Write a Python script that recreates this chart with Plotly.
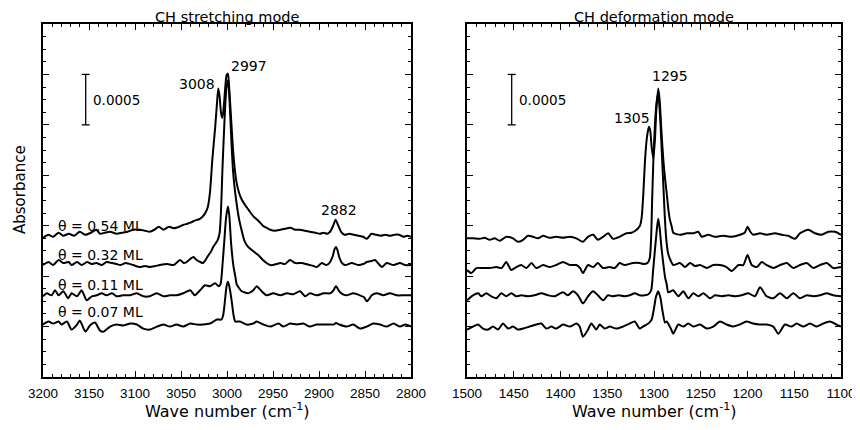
import plotly.graph_objects as go

# ---------------- data (absorbance in units of 1e-4) ----------------
# CH stretching region (left panel)
ch_x_054 = [3200, 3194, 3189, 3183, 3178, 3172, 3166, 3160, 3154, 3148, 3142, 3138, 3133, 3127, 3120, 3114,
            3108, 3102, 3095, 3089, 3084, 3079, 3074, 3069, 3063, 3058, 3052, 3047, 3043, 3040, 3035, 3029,
            3024, 3021, 3018.5, 3016, 3013, 3011, 3009.5, 3008, 3006.5, 3005, 3003.5, 3002, 3000.5, 2999,
            2997.5, 2995, 2993, 2990, 2987, 2984, 2980, 2976, 2971, 2966, 2961, 2957, 2953, 2948, 2942, 2937,
            2931, 2926, 2921, 2915, 2910, 2904, 2899, 2895, 2891, 2888, 2885, 2882, 2879, 2876, 2872, 2867,
            2862, 2857, 2852, 2848, 2843, 2838, 2833, 2828, 2823, 2818, 2813, 2808, 2804, 2800]
ch_y_054 = [13.8, 14.1, 13.9, 14.3, 14.0, 14.2, 14.0, 14.4, 14.1, 14.3, 14.6, 14.2, 14.3, 14.4, 14.2, 14.3,
            14.4, 14.6, 14.6, 14.5, 14.4, 14.6, 14.9, 14.6, 14.9, 14.75, 14.9, 15.1, 15.2, 15.3, 15.5, 15.7,
            16.2, 16.8, 18.3, 21.5, 24.6, 27.0, 28.6, 27.8, 26.2, 25.7, 26.8, 28.6, 29.9, 30.1,
            28.5, 24.8, 22.0, 19.5, 18.3, 17.6, 17.0, 16.5, 15.9, 15.5, 15.0, 14.8, 14.6, 14.5, 14.6, 14.7,
            14.8, 14.6, 14.6, 14.5, 14.4, 14.3, 14.2, 14.3, 14.2, 14.4, 14.9, 15.6, 15.0, 14.4, 14.1, 14.2,
            14.1, 14.0, 13.9, 13.7, 14.2, 14.1, 14.0, 14.1, 14.0, 14.1, 14.1, 13.9, 14.0, 13.9]

ch_x_032 = [3200, 3194, 3189, 3183, 3178, 3172, 3169, 3163, 3158, 3152, 3147, 3142, 3136, 3131, 3125, 3120,
            3116, 3110, 3102, 3095, 3089, 3084, 3078, 3073, 3065, 3058, 3051, 3047, 3044, 3040, 3036.5, 3033,
            3029, 3026, 3022, 3020, 3017, 3015, 3012, 3010, 3008, 3006.5, 3005, 3003.5, 3002, 3000.5, 2999.3,
            2998, 2996.5, 2995, 2993.5, 2992, 2990, 2987, 2984, 2981, 2977, 2973, 2969, 2965, 2961, 2957,
            2953, 2950, 2946, 2942, 2937, 2931.5, 2926, 2919, 2914, 2910, 2906, 2902.5, 2897, 2892, 2888,
            2885, 2883, 2881.5, 2880, 2878, 2875, 2871.5, 2864.5, 2857, 2852, 2848, 2843, 2839, 2835, 2831.5,
            2826.5, 2819, 2812, 2806.5, 2800]
ch_y_032 = [11.1, 11.4, 11.1, 11.6, 11.3, 11.4, 11.1, 11.4, 11.1, 11.4, 11.2, 11.3, 11.1, 11.4, 11.3, 11.2,
            11.1, 11.3, 11.1, 10.9, 11.0, 10.9, 11.0, 11.1, 11.2, 11.1, 11.6, 11.3, 11.4, 11.7, 11.9, 11.6,
            11.4, 11.3, 11.8, 12.1, 12.5, 12.9, 13.3, 13.6, 14.3, 16.5, 20.5, 23.8, 26.8, 28.8, 29.4,
            28.6, 26.0, 23.0, 20.5, 19.0, 17.5, 15.7, 14.5, 13.5, 12.9, 12.6, 12.3, 12.0, 11.6, 11.3,
            11.1, 11.1, 11.2, 11.3, 11.2, 11.6, 11.3, 11.3, 11.2, 11.1, 11.0, 10.9, 11.3, 11.1, 11.4,
            12.0, 12.7, 12.9, 12.6, 11.9, 11.3, 11.1, 11.3, 11.1, 11.2, 11.4, 11.5, 11.6, 11.2, 10.9,
            11.3, 11.1, 11.3, 11.1, 11.1]

ch_x_011 = [3200, 3196, 3190.5, 3187, 3183, 3178, 3172.5, 3169, 3163, 3158, 3152.5, 3147, 3141.6, 3136, 3131,
            3125, 3120, 3113, 3105.5, 3098, 3091, 3084, 3076.4, 3069, 3062, 3055, 3047.5, 3040, 3035, 3029.3,
            3024, 3018.5, 3013, 3009, 3007, 3005, 3003, 3001, 2999, 2997.5, 2995.5, 2993, 2991, 2989.5, 2986,
            2984, 2977, 2971.4, 2967.7, 2962.3, 2956.8, 2949.7, 2942, 2935, 2928, 2920.7, 2915, 2909.8, 2902.5,
            2895, 2888, 2885, 2881.5, 2878, 2874, 2870, 2862.7, 2855.5, 2851, 2848, 2845, 2842.7, 2837, 2830,
            2823, 2815.5, 2808, 2800]
ch_y_011 = [8.0, 8.3, 8.1, 8.6, 8.1, 8.5, 7.8, 8.3, 8.0, 8.6, 7.6, 8.0, 8.1, 8.3, 8.1,
            8.3, 8.0, 8.1, 8.1, 8.3, 8.0, 8.0, 8.3, 8.0, 8.1, 8.1, 8.3, 8.6, 8.1, 8.6,
            9.1, 9.0, 9.3, 9.0, 9.2, 11.0, 13.4, 15.8, 16.9, 16.0, 13.2, 11.0, 10.0, 9.2, 8.7,
            8.5, 8.3, 8.6, 9.0, 8.5, 8.1, 8.3, 8.1, 8.3, 8.2, 8.5, 8.0, 8.3, 8.1,
            8.3, 8.3, 8.5, 9.0, 8.5, 8.2, 8.1, 8.3, 8.1, 7.9, 7.5, 7.8, 8.1, 8.3, 8.1,
            8.3, 8.1, 8.1, 8.1]

ch_x_007 = [3200, 3194, 3189, 3183, 3180, 3174, 3169, 3163, 3160, 3154, 3149, 3143.5, 3138, 3134, 3127, 3120,
            3113, 3105, 3098, 3091, 3084, 3076, 3069, 3062, 3055, 3047.5, 3040, 3033, 3026, 3018.5, 3011,
            3006, 3004, 3002.2, 3000.5, 2999, 2997.5, 2995, 2993, 2991, 2986, 2978.6, 2971.4, 2967.7, 2960.5,
            2953, 2944, 2938.6, 2931.5, 2924, 2917, 2910, 2902.5, 2895, 2888, 2884, 2881.5, 2878, 2870, 2862.7,
            2855.4, 2848, 2841, 2833.7, 2826.5, 2819, 2812, 2806, 2800]
ch_y_007 = [5.2, 5.5, 5.3, 5.5, 5.2, 5.5, 4.7, 5.2, 5.6, 4.5, 5.1, 5.4, 4.6, 4.5, 5.0, 5.2,
            5.1, 5.3, 5.2, 4.8, 4.7, 5.0, 5.2, 5.0, 5.2, 5.0, 5.3, 5.2, 5.2, 5.3, 5.7,
            5.7, 6.2, 7.6, 9.0, 9.45, 9.0, 7.6, 6.2, 5.5, 5.5, 5.2, 5.3, 5.5, 5.2,
            5.0, 5.3, 5.0, 5.3, 5.2, 5.3, 5.0, 5.2, 5.2, 5.2, 5.2, 5.35, 5.2, 5.0, 5.2,
            4.8, 5.0, 5.3, 5.2, 5.0, 5.3, 5.0, 5.2, 5.0]

# CH deformation region (right panel)
cd_x_054 = [1500, 1493.6, 1486.4, 1481, 1475.7, 1470.4, 1465, 1458, 1450.8, 1445.5, 1440, 1434.8, 1429.4, 1424,
            1418.7, 1411.6, 1404.5, 1397.4, 1390, 1383, 1376, 1370.6, 1365, 1360, 1354.5, 1349, 1343.9, 1336.7,
            1329.6, 1324, 1320, 1317, 1315, 1313.2, 1311.4, 1309.6, 1307.5, 1305.5, 1304, 1302.5, 1300.7, 1299,
            1297.5, 1295.5, 1294, 1292, 1290, 1288, 1286.4, 1284.5, 1283, 1281, 1279.4, 1272, 1265, 1258, 1252.6,
            1249, 1242, 1234.8, 1226, 1217, 1208, 1203, 1200, 1197, 1193.8, 1186.6, 1179.5, 1170.6, 1163.4,
            1156.4, 1149.2, 1143.9, 1135, 1127.8, 1120.6, 1113.6, 1106.4, 1100]
cd_y_054 = [13.75, 13.75, 13.7, 13.8, 13.6, 13.75, 13.5, 13.9, 13.75, 13.4, 13.6, 14.0, 13.9, 13.75,
            14.0, 13.8, 13.9, 13.8, 13.9, 13.75, 13.4, 13.9, 14.1, 13.6, 13.9, 14.25, 13.7, 13.9,
            14.25, 14.3, 14.5, 14.75, 15.0, 15.8, 18.2, 21.5, 23.8, 24.8, 24.4, 22.8, 21.7, 23.5,
            26.5, 28.6, 27.5, 24.3, 21.5, 19.5, 18.2, 16.5, 15.6, 14.9, 14.3, 14.1, 14.25, 14.25, 14.4,
            13.9, 14.1, 13.9, 14.0, 13.9, 14.1, 14.3, 14.9, 14.4, 14.1, 14.25, 14.1, 14.25, 14.1,
            14.0, 13.7, 14.25, 14.6, 14.25, 14.1, 14.4, 14.4, 14.1]

cd_x_032 = [1500, 1495.4, 1490, 1483, 1475.7, 1468.7, 1463, 1458, 1452.6, 1447.3, 1442, 1436.6, 1431, 1426,
            1418.7, 1411.5, 1404.5, 1397.3, 1390, 1383, 1379, 1376, 1370.6, 1365, 1360, 1354.5, 1347.4, 1342,
            1336.7, 1331.3, 1322.5, 1315.3, 1311, 1307, 1304.5, 1303, 1302, 1300.5, 1299, 1297.5, 1296, 1294.5,
            1293, 1291.5, 1290, 1288.5, 1287, 1285, 1282, 1279.4, 1272.2, 1266.8, 1261.5, 1256, 1250.7, 1243.6,
            1236.6, 1229.5, 1222.4, 1217, 1209.8, 1204.5, 1200, 1195.5, 1190, 1184.8, 1179.5, 1172.4, 1165.2,
            1158, 1151, 1143.9, 1136.7, 1129.6, 1122.5, 1115.3, 1108.2, 1100]
cd_y_032 = [10.6, 10.3, 10.8, 10.8, 10.8, 10.9, 10.8, 11.4, 10.6, 10.9, 11.1, 10.8, 11.3, 10.8,
            11.1, 10.9, 11.1, 11.4, 11.1, 11.1, 10.8, 10.3, 11.1, 10.9, 11.3, 10.8, 10.9, 10.8,
            11.3, 11.1, 11.3, 11.3, 11.2, 11.3, 11.8, 14.0, 17.5, 22.0, 25.0, 27.0, 28.0, 27.2,
            25.0, 22.0, 19.0, 16.0, 13.8, 12.3, 11.5, 11.1, 11.3, 10.9, 11.3, 11.0, 11.1, 10.8,
            11.1, 11.1, 10.9, 10.5, 11.1, 11.1, 12.1, 11.1, 10.9, 11.4, 11.1, 10.8, 11.1,
            11.3, 10.8, 11.1, 11.3, 10.8, 11.1, 11.3, 10.8, 10.9]

cd_x_011 = [1500, 1493.6, 1488, 1484.7, 1479.4, 1474, 1468.7, 1463.3, 1458, 1452.6, 1447.3, 1442, 1435, 1427.6,
            1420.5, 1413.3, 1406.3, 1397.3, 1392, 1386.6, 1381.3, 1376, 1370.6, 1365.2, 1360, 1354.5, 1349.2,
            1343.9, 1338, 1331.3, 1326, 1320.6, 1315.3, 1310, 1306, 1303, 1301, 1299, 1297, 1295.5, 1294, 1292,
            1290, 1288, 1286.4, 1284.7, 1279.4, 1274, 1268.7, 1263.3, 1258, 1252.6, 1247.3, 1240, 1234.8,
            1227.7, 1220.6, 1213.4, 1206.3, 1199.1, 1192, 1186.6, 1179.5, 1172.4, 1165.2, 1158, 1151, 1143.9,
            1136.7, 1129.6, 1122.5, 1115.3, 1108.2, 1100]
cd_y_011 = [7.6, 8.1, 8.3, 8.0, 8.3, 8.0, 7.8, 8.3, 8.0, 8.3, 8.0, 8.1, 8.0, 8.1,
            8.3, 8.1, 8.0, 8.4, 8.1, 8.5, 8.1, 7.3, 8.0, 8.5, 8.1, 7.6, 8.1,
            8.0, 8.1, 8.0, 8.1, 8.3, 8.1, 8.1, 8.2, 8.6, 10.5, 12.6, 14.6, 15.7, 14.8, 12.8,
            11.2, 9.8, 9.2, 8.4, 8.6, 8.0, 8.5, 7.8, 8.3, 8.0, 8.3, 7.8, 8.1,
            8.0, 8.1, 8.0, 8.1, 8.3, 8.0, 8.9, 8.0, 7.8, 8.3, 7.8, 8.3, 7.8,
            8.1, 8.0, 8.1, 8.3, 8.1, 8.0]

cd_x_007 = [1500, 1493.6, 1488.2, 1482.9, 1477.5, 1472.2, 1466.8, 1461.5, 1456, 1450.8, 1445.5, 1440, 1433,
            1426, 1420.5, 1415, 1409.8, 1404.5, 1397.3, 1390, 1383, 1379.5, 1376, 1370.6, 1367, 1361.7, 1358.1,
            1352.7, 1347.4, 1340.3, 1333.2, 1326, 1320.6, 1315.3, 1311.8, 1306, 1302.5, 1300, 1298, 1295.5,
            1293, 1291, 1288.2, 1286.4, 1282, 1279.4, 1274, 1268.7, 1263.3, 1258, 1250.7, 1243.6, 1236.6,
            1229.4, 1222.4, 1215.3, 1208.2, 1201, 1194, 1187, 1179.5, 1172.4, 1167, 1160, 1153, 1147.4, 1140.3,
            1133.2, 1126, 1119, 1111.8, 1104.7, 1100]
cd_y_007 = [4.7, 5.0, 5.2, 4.8, 4.7, 5.0, 4.7, 5.3, 4.8, 5.0, 4.7, 4.8, 5.0,
            5.2, 5.3, 4.8, 5.0, 4.8, 5.2, 5.0, 5.3, 5.0, 4.0, 4.7, 5.3, 4.7, 5.2,
            4.8, 5.0, 4.8, 5.0, 5.3, 5.5, 4.8, 5.0, 5.3, 5.7, 6.8, 7.9, 8.5,
            7.8, 6.6, 5.4, 5.5, 4.8, 4.3, 5.2, 5.0, 5.3, 5.0, 5.2, 4.8, 5.0,
            5.5, 5.2, 5.0, 5.2, 5.5, 5.3, 5.2, 5.2, 5.0, 4.3, 5.2, 5.0, 5.3, 5.0,
            5.3, 5.0, 5.3, 5.5, 5.2, 5.0]

coverage_labels = ["θ = 0.54 ML", "θ = 0.32 ML", "θ = 0.11 ML", "θ = 0.07 ML"]
coverage_label_y = [15.0, 12.1, 9.1, 6.4]
ch_peak_labels = ["3008", "2997", "2882"]
ch_peak_label_x = [3032.6, 2976.6, 2878.3]
ch_peak_label_y = [29.1, 30.85, 16.6]
cd_peak_labels = ["1305", "1295"]
cd_peak_label_x = [1323, 1282.4]
cd_peak_label_y = [25.7, 29.8]
ch_ticks = [3200, 3150, 3100, 3050, 3000, 2950, 2900, 2850, 2800]
cd_ticks = [1500, 1450, 1400, 1350, 1300, 1250, 1200, 1150, 1100]
scale_bar = [25, 30]   # 0.0005 absorbance = 5 units

# ---------------- figure ----------------
TXT = "DejaVu Sans, Verdana, sans-serif"
TICKF = "Liberation Sans, Arial, Helvetica, sans-serif"
line = dict(color="black", width=2.0, shape="spline", smoothing=0.6)

fig = go.Figure()
for xs, ys in [(ch_x_054, ch_y_054), (ch_x_032, ch_y_032), (ch_x_011, ch_y_011), (ch_x_007, ch_y_007)]:
    fig.add_trace(go.Scatter(x=xs, y=ys, mode="lines", line=line, xaxis="x", yaxis="y",
                             showlegend=False, hoverinfo="skip"))
for xs, ys in [(cd_x_054, cd_y_054), (cd_x_032, cd_y_032), (cd_x_011, cd_y_011), (cd_x_007, cd_y_007)]:
    fig.add_trace(go.Scatter(x=xs, y=ys, mode="lines", line=line, xaxis="x2", yaxis="y2",
                             showlegend=False, hoverinfo="skip"))

# page has an 8px body margin: figure is 852x422 placed at (8, 8)
OFF = 8
FW, FH = 860 - OFF, 430 - OFF
# target plot area on the page: x 43..841 px, y 24..377 px
ML, MT = 43 - OFF, 24 - OFF
MR, MB = FW - (841 - OFF), FH - (377 - OFF)
PW, PH = FW - ML - MR, FH - MT - MB

def px(x):
    return (x - OFF - ML) / PW

def py(y):
    return (FH - MB - (y - OFF)) / PH

def xax(rng, ticks, dom, anchor):
    return dict(domain=dom, range=rng, anchor=anchor, tickmode="array", tickvals=ticks,
                ticktext=[str(t) for t in ticks], ticks="inside", ticklen=6, tickwidth=1.2,
                tickcolor="black", mirror="allticks", showline=True, linecolor="black", linewidth=1.5,
                showgrid=False, zeroline=False, automargin=False,
                tickfont=dict(family=TICKF, size=13.5, color="black"),
                ticklabelstandoff=3,
                minor=dict(dtick=10, tick0=1100, ticks="inside", ticklen=3, tickwidth=1, tickcolor="black",
                           showgrid=False))

def yax(anchor):
    return dict(domain=[0, 1], range=[0, 35], anchor=anchor, tick0=0, dtick=5, ticks="inside", ticklen=6,
                tickwidth=1.2, tickcolor="black", mirror="allticks", showline=True, linecolor="black",
                linewidth=1.5, showgrid=False, zeroline=False, showticklabels=False, automargin=False,
                minor=dict(dtick=1.25, tick0=0, ticks="inside", ticklen=3, tickwidth=1, tickcolor="black",
                           showgrid=False))

fig.update_layout(
    width=FW, height=FH, autosize=False,
    margin=dict(l=ML, r=MR, t=MT, b=MB, pad=0, autoexpand=False),
    paper_bgcolor="white", plot_bgcolor="white",
    xaxis=xax([3200, 2800], ch_ticks, [0, px(411)], "y"),
    yaxis=yax("x"),
    xaxis2=xax([1500, 1100], cd_ticks, [px(467), 1], "y2"),
    yaxis2=yax("x2"),
)

ann = []
def A(text, x, y, xref, yref, size, **kw):
    d = dict(text=text, x=x, y=y, xref=xref, yref=yref, showarrow=False, xanchor="center",
             yanchor="middle", font=dict(family=TXT, size=size, color="black"))
    d.update(kw)
    ann.append(d)

# panel titles and axis titles
A("CH stretching mode", px(227), py(8), "paper", "paper", 14.5, yanchor="top", borderpad=0)
A("CH deformation mode", px(654), py(8), "paper", "paper", 14.5, yanchor="top", borderpad=0)
A("Wave number (cm<sup>-1</sup>)", px(227), py(410), "paper", "paper", 16)
A("Wave number (cm<sup>-1</sup>)", px(654), py(410), "paper", "paper", 16)
A("Absorbance", px(20), py(190), "paper", "paper", 15, textangle=-90)

for t, yv in zip(coverage_labels, coverage_label_y):
    A(t, 3186, yv, "x", "y", 14, xanchor="left")
for t, xv, yv in zip(ch_peak_labels, ch_peak_label_x, ch_peak_label_y):
    A(t, xv, yv, "x", "y", 14)
for t, xv, yv in zip(cd_peak_labels, cd_peak_label_x, cd_peak_label_y):
    A(t, xv, yv, "x2", "y2", 14)
A("0.0005", 3148, 27.5, "x", "y", 13.5, xanchor="left")
A("0.0005", 1447, 27.5, "x2", "y2", 13.5, xanchor="left")
fig.update_layout(annotations=ann)

# scale bars
shapes = []
for xr, yr, xc, hw in [("x", "y", 3153.6, 4.35), ("x2", "y2", 1452.2, 4.3)]:
    sty = dict(color="black", width=1.3)
    shapes.append(dict(type="line", xref=xr, yref=yr, x0=xc, x1=xc, y0=scale_bar[0], y1=scale_bar[1], line=sty))
    for yv in scale_bar:
        shapes.append(dict(type="line", xref=xr, yref=yr, x0=xc - hw, x1=xc + hw, y0=yv, y1=yv, line=sty))
fig.update_layout(shapes=shapes)

fig.write_html("out.html")
